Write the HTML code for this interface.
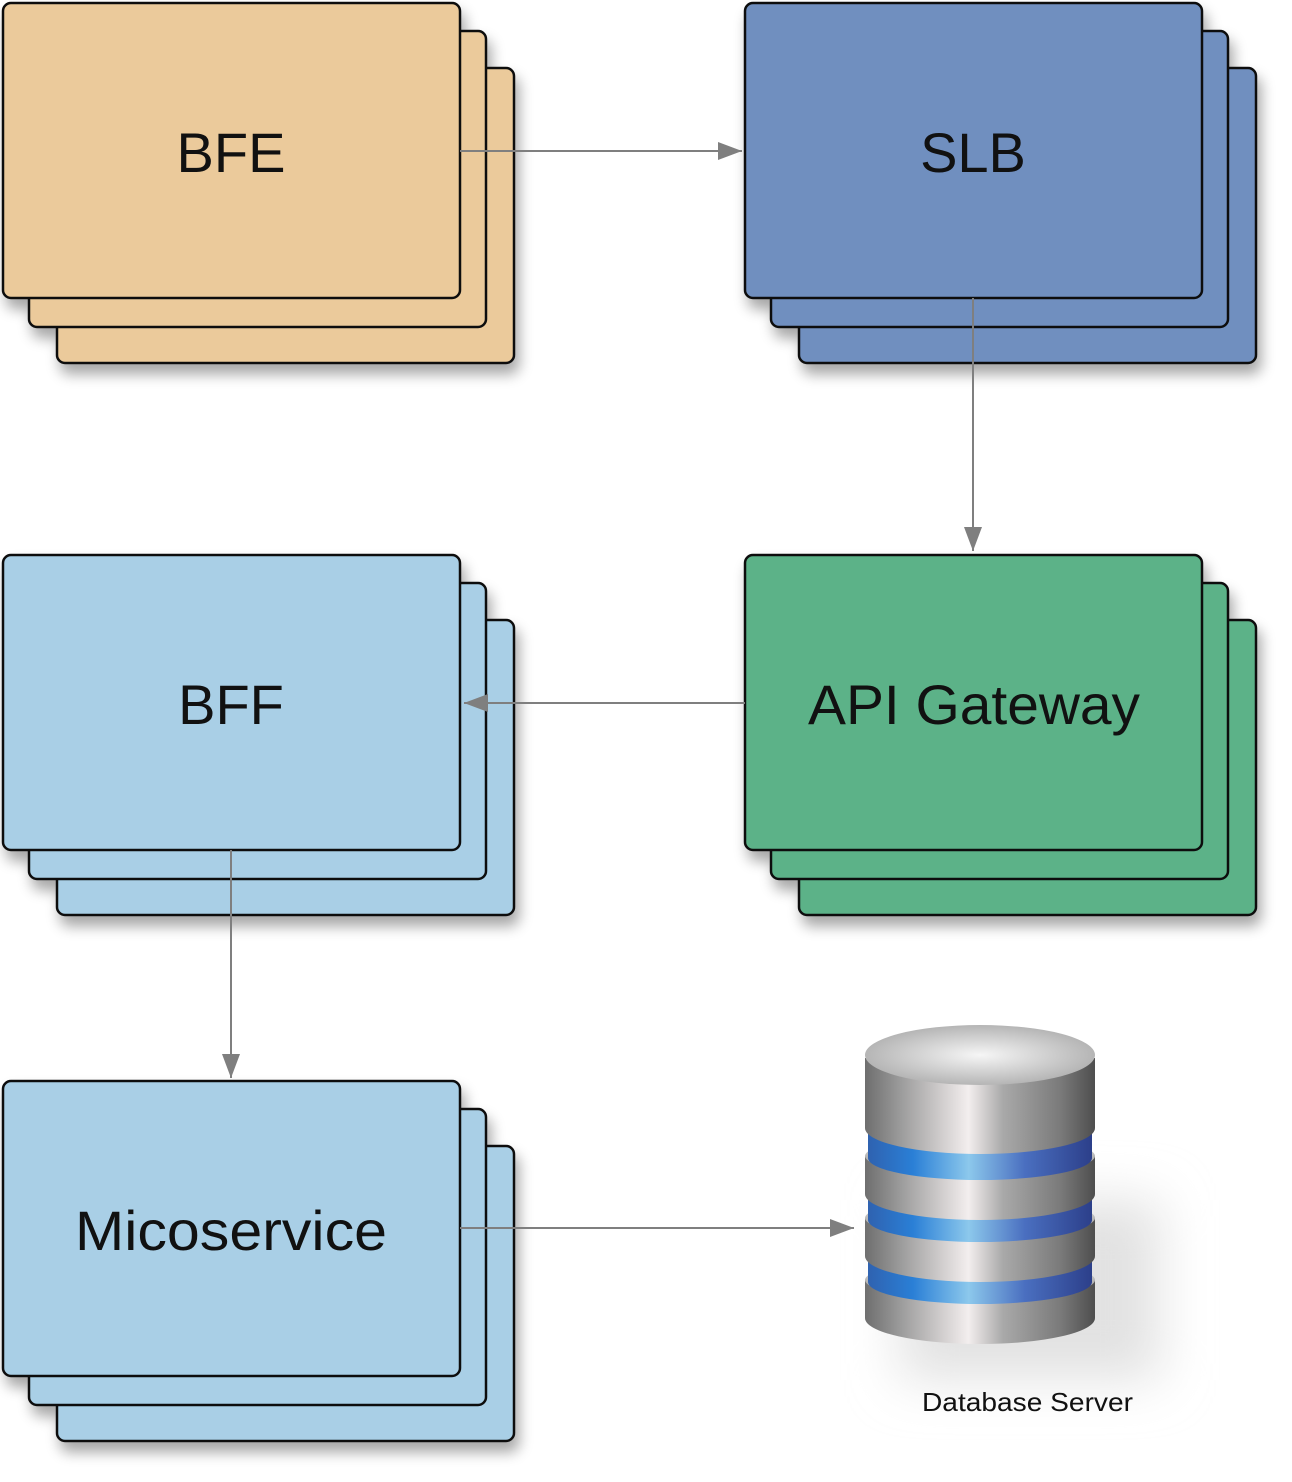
<!DOCTYPE html>
<html><head><meta charset="utf-8"><style>
html,body{margin:0;padding:0;background:#fff;}
svg{display:block}
text{font-family:"Liberation Sans",sans-serif;fill:#111}
</style></head><body>
<svg width="1292" height="1482" viewBox="0 0 1292 1482" xmlns="http://www.w3.org/2000/svg">
<defs>
<filter id="sh" x="-10%" y="-10%" width="130%" height="140%">
<feGaussianBlur in="SourceAlpha" stdDeviation="7"/>
<feOffset dx="4" dy="10" result="b"/>
<feComponentTransfer><feFuncA type="linear" slope="0.35"/></feComponentTransfer>
<feMerge><feMergeNode/><feMergeNode in="SourceGraphic"/></feMerge>
</filter>
<filter id="blur" x="-50%" y="-50%" width="200%" height="200%"><feGaussianBlur stdDeviation="25"/></filter>
<marker id="ar" markerWidth="26" markerHeight="20" refX="24" refY="9" orient="auto" markerUnits="userSpaceOnUse">
<path d="M0,0 L24,9 L0,18 Z" fill="#7f7f7f"/>
</marker>
<linearGradient id="metal" x1="0" x2="1" y1="0" y2="0">
<stop offset="0" stop-color="#6e6e6e"/><stop offset="0.15" stop-color="#9a9a9a"/>
<stop offset="0.45" stop-color="#f3eeee"/><stop offset="0.6" stop-color="#a9a9a9"/>
<stop offset="0.85" stop-color="#7a7a7a"/><stop offset="1" stop-color="#4e4e4e"/>
</linearGradient>
<linearGradient id="rim" x1="0" x2="0" y1="0" y2="1">
<stop offset="0" stop-color="#e8e8e8"/><stop offset="1" stop-color="#8a8a8a"/>
</linearGradient>
<linearGradient id="blue" x1="0" x2="1" y1="0" y2="0">
<stop offset="0" stop-color="#2f62b0"/><stop offset="0.2" stop-color="#2a7fd6"/>
<stop offset="0.45" stop-color="#8cc8ec"/><stop offset="0.7" stop-color="#4a6fc0"/>
<stop offset="1" stop-color="#2c3f8a"/>
</linearGradient>
<radialGradient id="top" cx="0.5" cy="0.5" r="0.6">
<stop offset="0" stop-color="#f6f6f6"/><stop offset="1" stop-color="#a8a8a8"/>
</radialGradient>
</defs>

<g stroke="#111" stroke-width="2.5" filter="url(#sh)">
<g fill="#ebca9b">
<rect x="57" y="68" width="457" height="295" rx="8"/>
<rect x="29" y="31" width="457" height="296" rx="8"/>
<rect x="3" y="3" width="457" height="295" rx="8"/>
</g>
<g fill="#6f8fbf">
<rect x="799" y="68" width="457" height="295" rx="8"/>
<rect x="771" y="31" width="457" height="296" rx="8"/>
<rect x="745" y="3" width="457" height="295" rx="8"/>
</g>
<g fill="#a9cfe6">
<rect x="57" y="620" width="457" height="295" rx="8"/>
<rect x="29" y="583" width="457" height="296" rx="8"/>
<rect x="3" y="555" width="457" height="295" rx="8"/>
</g>
<g fill="#5bb288">
<rect x="799" y="620" width="457" height="295" rx="8"/>
<rect x="771" y="583" width="457" height="296" rx="8"/>
<rect x="745" y="555" width="457" height="295" rx="8"/>
</g>
<g fill="#a9cfe6">
<rect x="57" y="1146" width="457" height="295" rx="8"/>
<rect x="29" y="1109" width="457" height="296" rx="8"/>
<rect x="3" y="1081" width="457" height="295" rx="8"/>
</g>
</g>

<text x="231" y="172" font-size="56" text-anchor="middle">BFE</text>
<text x="973" y="172" font-size="56" text-anchor="middle">SLB</text>
<text x="231" y="724" font-size="56" text-anchor="middle">BFF</text>
<text x="808" y="724" font-size="56" textLength="332" lengthAdjust="spacingAndGlyphs">API Gateway</text>
<text x="75" y="1250" font-size="56" textLength="312" lengthAdjust="spacingAndGlyphs">Micoservice</text>

<g stroke="#7f7f7f" stroke-width="2" fill="none" marker-end="url(#ar)">
<line x1="460" y1="151" x2="742" y2="151"/>
<line x1="973" y1="298" x2="973" y2="551"/>
<line x1="745" y1="703" x2="464" y2="703"/>
<line x1="231" y1="850" x2="231" y2="1078"/>
<line x1="460" y1="1228" x2="854" y2="1228"/>
</g>

<path d="M900,1200 L1160,1200 L1160,1380 L900,1380 Z" fill="#e2e2e2" filter="url(#blur)"/>
<g>
<path d="M865,1280 L865,1318 A115,26 0 0 0 1095,1318 L1095,1280 Z" fill="url(#metal)"/>
<ellipse cx="980" cy="1280" rx="115" ry="20" fill="url(#rim)"/>
<path d="M868,1258 L868,1282 A112,22 0 0 0 1092,1282 L1092,1258 Z" fill="url(#blue)"/>
<path d="M865,1218 L865,1256 A115,26 0 0 0 1095,1256 L1095,1218 Z" fill="url(#metal)"/>
<ellipse cx="980" cy="1218" rx="115" ry="20" fill="url(#rim)"/>
<path d="M868,1196 L868,1220 A112,22 0 0 0 1092,1220 L1092,1196 Z" fill="url(#blue)"/>
<path d="M865,1156 L865,1194 A115,26 0 0 0 1095,1194 L1095,1156 Z" fill="url(#metal)"/>
<ellipse cx="980" cy="1156" rx="115" ry="20" fill="url(#rim)"/>
<path d="M868,1130 L868,1158 A112,22 0 0 0 1092,1158 L1092,1130 Z" fill="url(#blue)"/>
<path d="M865,1058 L865,1128 A115,26 0 0 0 1095,1128 L1095,1058 Z" fill="url(#metal)"/>
<ellipse cx="980" cy="1055" rx="115" ry="30" fill="url(#top)"/>
</g>
<text x="922" y="1411" font-size="26" textLength="211" lengthAdjust="spacingAndGlyphs">Database Server</text>
</svg>
</body></html>
